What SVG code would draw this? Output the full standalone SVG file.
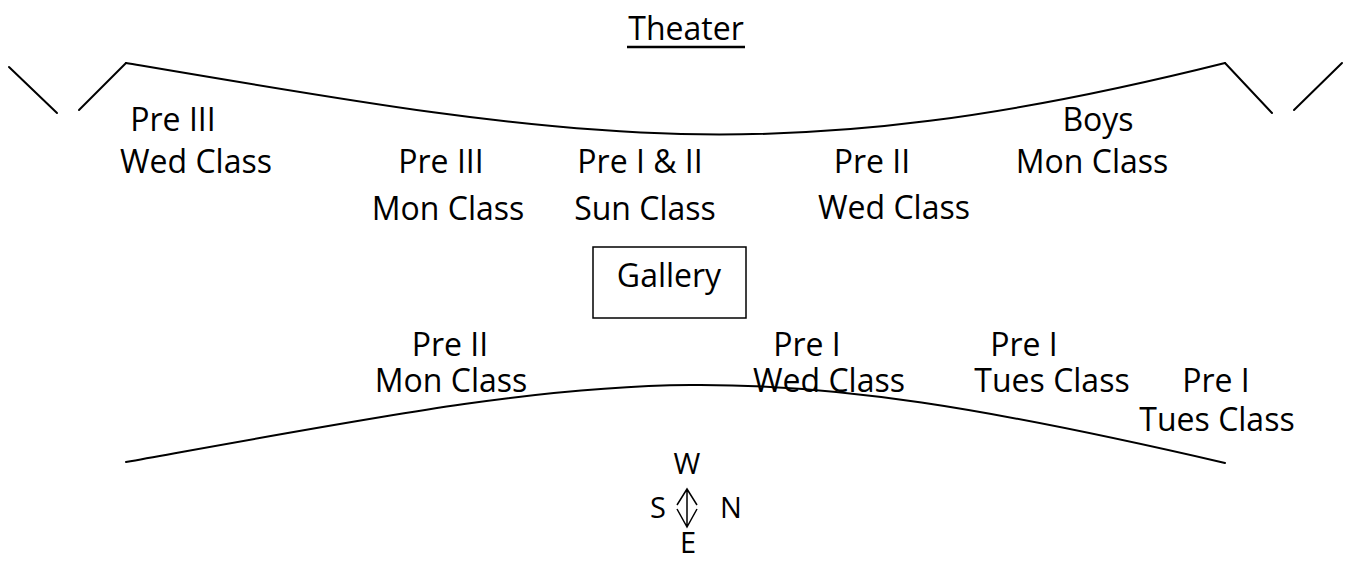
<svg xmlns="http://www.w3.org/2000/svg" width="1345" height="561" viewBox="0 0 1345 561">
<style>
.t{font-family:"Open Sans","Liberation Sans",sans-serif;font-size:32px;fill:#000;text-anchor:middle}
.c{font-family:"Open Sans","Liberation Sans",sans-serif;font-size:29px;fill:#000;text-anchor:middle}
.ln{fill:none;stroke:#000;stroke-width:2;stroke-linecap:round}
</style>
<rect width="1345" height="561" fill="#fff"/>
<g id="connectors">
<path class="ln" d="M9,67 L57,113"/>
<path class="ln" d="M79,110 L126,63"/>
<path class="ln" d="M126,63 C576,139.5 775,175.5 1225,63"/>
<path class="ln" d="M1225,63 L1272,113"/>
<path class="ln" d="M1294,110 L1342,63"/>
<path class="ln" d="M126,462 C626,372 725,347 1225,463"/>
</g>
<g id="theater">
<text class="t" x="686" y="40">Theater</text>
<line x1="627" y1="47" x2="745" y2="47" stroke="#000" stroke-width="2.5"/>
</g>
<g id="pre3-wed"><text class="t" x="173" y="131">Pre III</text><text class="t" x="196" y="173">Wed Class</text></g>
<g id="pre3-mon"><text class="t" x="441" y="173">Pre III</text><text class="t" x="448" y="220">Mon Class</text></g>
<g id="pre12-sun"><text class="t" x="640" y="173">Pre I &amp; II</text><text class="t" x="645" y="220">Sun Class</text></g>
<g id="pre2-wed"><text class="t" x="872" y="173">Pre II</text><text class="t" x="894" y="219">Wed Class</text></g>
<g id="boys-mon"><text class="t" x="1098" y="131">Boys</text><text class="t" x="1092" y="173">Mon Class</text></g>
<g id="gallery">
<rect x="593" y="247" width="153" height="71" fill="none" stroke="#000" stroke-width="1.5"/>
<text class="t" x="669" y="287">Gallery</text>
</g>
<g id="pre2-mon"><text class="t" x="450" y="356">Pre II</text><text class="t" x="451" y="392">Mon Class</text></g>
<g id="pre1-wed"><text class="t" x="807" y="356">Pre I</text><text class="t" x="829" y="392">Wed Class</text></g>
<g id="pre1-tues-a"><text class="t" x="1024" y="356">Pre I</text><text class="t" x="1052" y="392">Tues Class</text></g>
<g id="pre1-tues-b"><text class="t" x="1216" y="392">Pre I</text><text class="t" x="1217" y="431">Tues Class</text></g>
<g id="compass">
<text class="c" x="687" y="474">W</text>
<text class="c" x="658" y="518">S</text>
<text class="c" x="731" y="518">N</text>
<text class="c" x="688" y="553">E</text>
<path d="M687,489 L687,527 M677,505 L687,489 L697,505 M677,509 L687,527 L697,509" fill="none" stroke="#000" stroke-width="1.5" stroke-linejoin="miter"/>
</g>
</svg>
